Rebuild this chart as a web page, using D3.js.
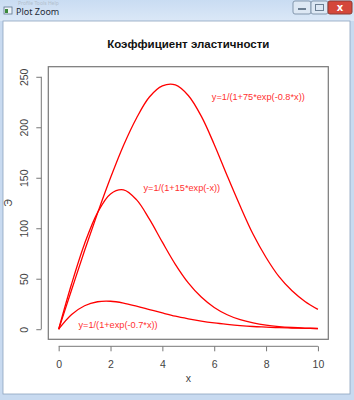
<!DOCTYPE html>
<html>
<head>
<meta charset="utf-8">
<script src="https://cdn.jsdelivr.net/npm/d3@7"></script>
<style>
  body { margin: 0; background: #fff; }
  svg { display: block; }
  .tick text { font-family: "Liberation Sans", Arial, sans-serif; font-size: 10.5px; fill: #444; }
</style>
</head>
<body>
<div id="chart"></div>
<script>
// x values where the curves were read
var xs = [0, 0.5, 1, 1.5, 2, 2.5, 3, 3.5, 4, 4.5, 5, 5.5, 6, 6.5, 7, 7.5, 8, 8.5, 9, 9.5, 10];

// elasticity values (in %)
var e75 = [0, 39, 78, 115, 150, 182, 209, 230, 241, 242, 231.5, 211, 183, 152, 122, 94, 71, 52, 38, 27.5, 19.6];
var e15 = [0, 45, 84.7, 115.5, 134, 138, 128.3, 109, 86.2, 64.3, 45.9, 31.8, 21.5, 14.3, 9.4, 6.2, 4, 2.6, 1.7, 1.1, 0.7];
var e1 = [0, 14.5, 23.2, 27.2, 27.7, 25.9, 22.9, 19.5, 16.1, 12.9, 10.3, 8, 6.2, 4.8, 3.6, 2.7, 2.1, 1.5, 1.2, 0.9, 0.6];

var xTicks = [0, 2, 4, 6, 8, 10];
var yTicks = [0, 50, 100, 150, 200, 250];

var labels = ["y=1/(1+75*exp(-0.8*x))", "y=1/(1+15*exp(-x))", "y=1/(1+exp(-0.7*x))"];
var labelX = [7.7, 4.75, 2.29];
var labelY = [230, 140, 4];

var width = 354, height = 400;

// plot box (R style, 4% padding on limits)
var box = {left: 48.3, right: 328.3, top: 66.7, bottom: 339.3};

var svg = d3.select("#chart").append("svg")
    .attr("width", width)
    .attr("height", height);

// window frame
var frame = svg.append("g");
var grad = svg.append("defs").append("linearGradient")
    .attr("id", "tbar").attr("x1", 0).attr("x2", 0).attr("y1", 0).attr("y2", 1);
grad.append("stop").attr("offset", "0%").attr("stop-color", "#c9dcf2");
grad.append("stop").attr("offset", "100%").attr("stop-color", "#dbe8f7");
frame.append("rect").attr("width", width).attr("height", height).attr("fill", "#c8daf0");
frame.append("rect").attr("width", width).attr("height", 21).attr("fill", "url(#tbar)");
frame.append("text").attr("x", 18).attr("y", 5)
    .attr("font-family", "Noto Sans, sans-serif").attr("font-size", 5).attr("fill", "#b3c0cd")
    .text("Profile    Tools    Help");
frame.append("rect").attr("x", 4).attr("y", 7).attr("width", 8).attr("height", 7)
    .attr("fill", "#eef3f8").attr("stroke", "#5d7590").attr("stroke-width", 0.8);
frame.append("rect").attr("x", 5).attr("y", 9).attr("width", 3).attr("height", 4).attr("fill", "#3b8a3b");
frame.append("text").attr("x", 16).attr("y", 15)
    .attr("font-family", "Noto Sans, sans-serif").attr("font-size", 9).attr("fill", "#1e2a36")
    .text("Plot Zoom");
// caption buttons
frame.append("rect").attr("x", 293).attr("y", 1).attr("width", 18).attr("height", 13).attr("rx", 2)
    .attr("fill", "#dde8f4").attr("stroke", "#8397ad");
frame.append("rect").attr("x", 298).attr("y", 8).attr("width", 8).attr("height", 2).attr("fill", "#6c7f93");
frame.append("rect").attr("x", 311).attr("y", 1).attr("width", 17).attr("height", 13).attr("rx", 2)
    .attr("fill", "#dde8f4").attr("stroke", "#8397ad");
frame.append("rect").attr("x", 315.5).attr("y", 4.5).attr("width", 8).attr("height", 6)
    .attr("fill", "none").attr("stroke", "#6c7f93");
frame.append("rect").attr("x", 328).attr("y", 1).attr("width", 24).attr("height", 13).attr("rx", 2)
    .attr("fill", "#d4473a").attr("stroke", "#8b3a33");
frame.append("text").attr("x", 340).attr("y", 11).attr("text-anchor", "middle")
    .attr("font-family", "DejaVu Sans, sans-serif").attr("font-size", 10).attr("font-weight", "bold")
    .attr("fill", "#fff").text("x");
// client area
frame.append("rect").attr("x", 3).attr("y", 21).attr("width", 347).attr("height", 373)
    .attr("fill", "#fff").attr("stroke", "#8da4bf").attr("stroke-width", 0.8);

// scales
var xScale = d3.scaleLinear()
    .domain([-0.4, 10.4])
    .range([box.left, box.right]);

var yScale = d3.scaleLinear()
    .domain([-10, 260])
    .range([box.bottom, box.top]);

// axes (R style: offset from the box)
var xAxis = svg.append("g")
    .attr("transform", "translate(0," + (box.bottom + 7) + ")")
    .call(d3.axisBottom(xScale).tickValues(xTicks).tickSize(5).tickPadding(9).tickSizeOuter(0));
xAxis.select(".domain").attr("d", "M" + xScale(0) + ",0H" + xScale(10));

var yAxis = svg.append("g")
    .attr("transform", "translate(" + (box.left - 7) + ",0)")
    .call(d3.axisLeft(yScale).tickValues(yTicks).tickSize(5).tickPadding(9).tickSizeOuter(0));
yAxis.select(".domain").attr("d", "M0," + yScale(0) + "V" + yScale(250));
yAxis.selectAll(".tick text")
    .attr("transform", "rotate(-90)")
    .attr("text-anchor", "middle")
    .attr("x", 0).attr("dx", 0)
    .attr("y", -13).attr("dy", 0);

svg.selectAll(".domain, .tick line").attr("stroke", "#777");

// box
svg.append("rect")
    .attr("x", box.left).attr("y", box.top)
    .attr("width", box.right - box.left).attr("height", box.bottom - box.top)
    .attr("fill", "none").attr("stroke", "#777").attr("stroke-width", 1.2);

// curves
var line = d3.line()
    .x(function(d) { return xScale(d[0]); })
    .y(function(d) { return yScale(d[1]); })
    .curve(d3.curveCatmullRom);

[e75, e15, e1].forEach(function(s) {
  svg.append("path")
    .datum(xs.map(function(x, i) { return [x, s[i]]; }))
    .attr("fill", "none")
    .attr("stroke", "#ff0000")
    .attr("stroke-width", 1.3)
    .attr("d", line);
});

// curve labels
svg.selectAll(".lbl")
    .data(labels)
  .enter().append("text")
    .attr("class", "lbl")
    .attr("x", function(d, i) { return xScale(labelX[i]); })
    .attr("y", function(d, i) { return yScale(labelY[i]); })
    .attr("dy", "0.35em")
    .attr("text-anchor", "middle")
    .attr("font-family", "Liberation Sans, Arial, sans-serif")
    .attr("font-size", 9.2)
    .attr("fill", "#ff3030")
    .text(function(d) { return d; });

// titles
svg.append("text")
    .attr("x", (box.left + box.right) / 2).attr("y", 48)
    .attr("text-anchor", "middle")
    .attr("font-family", "Liberation Sans, Arial, sans-serif")
    .attr("font-size", 11.5).attr("font-weight", "bold").attr("fill", "#111")
    .text("Коэффициент эластичности");

svg.append("text")
    .attr("x", (box.left + box.right) / 2).attr("y", 382)
    .attr("text-anchor", "middle")
    .attr("font-family", "Liberation Sans, Arial, sans-serif")
    .attr("font-size", 10.5).attr("fill", "#444")
    .text("x");

svg.append("text")
    .attr("transform", "translate(12," + ((box.top + box.bottom) / 2) + ") rotate(-90)")
    .attr("text-anchor", "middle")
    .attr("font-family", "Liberation Sans, Arial, sans-serif")
    .attr("font-size", 10.5).attr("fill", "#444")
    .text("Э");
</script>
</body>
</html>
